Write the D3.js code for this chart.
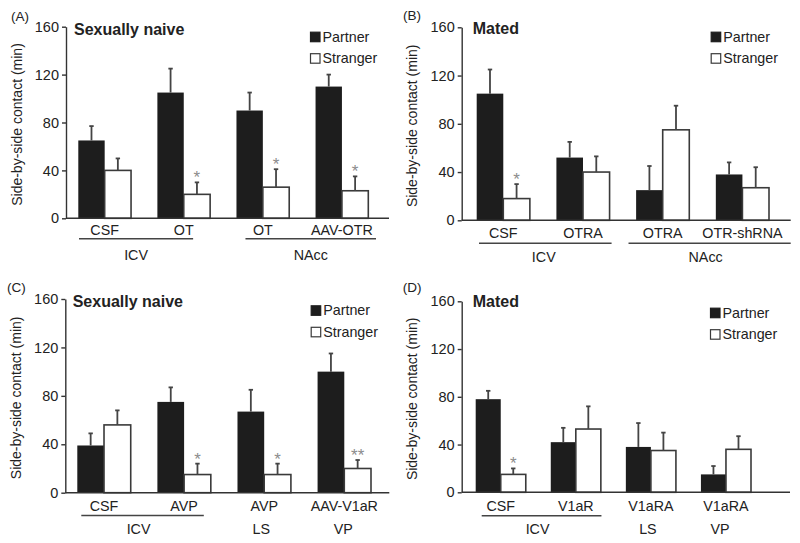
<!DOCTYPE html>
<html>
<head>
<meta charset="utf-8">
<script src="https://cdn.jsdelivr.net/npm/d3@7"></script>
<style>
  html, body { margin: 0; padding: 0; background: #fff; }
  svg { display: block; }
  text { font-family: "Liberation Sans", Arial, Helvetica, sans-serif; fill: #222; }
</style>
</head>
<body>
<svg id="chart" width="800" height="543"></svg>
<script>
// ---------------- DATA ----------------
const yTicks = [0, 40, 80, 120, 160];
const seriesNames = ["Partner", "Stranger"];
const yLabel = "Side-by-side contact (min)";

// Panel A
const titleA = "Sexually naive";
const catsA = ["CSF", "OT", "OT", "AAV-OTR"];
const partnerA = [65, 105, 90, 110];
const partnerErrA = [12, 20, 15, 10];
const strangerA = [40, 20, 26, 23];
const strangerErrA = [10, 10, 15, 12];
const sigA = ["", "*", "*", "*"];
const groupLabelsA = ["ICV", "NAcc"];
const groupSpansA = [[0, 1], [2, 3]];

// Panel B
const titleB = "Mated";
const catsB = ["CSF", "OTRA", "OTRA", "OTR-shRNA"];
const partnerB = [105, 52, 25, 38];
const partnerErrB = [20, 13, 20, 10];
const strangerB = [18, 40, 75, 27];
const strangerErrB = [12, 13, 20, 17];
const sigB = ["*", "", "", ""];
const groupLabelsB = ["ICV", "NAcc"];
const groupSpansB = [[0, 1], [2, 3]];

// Panel C
const titleC = "Sexually naive";
const catsC = ["CSF", "AVP", "AVP", "AAV-V1aR"];
const partnerC = [39, 75, 67, 100];
const partnerErrC = [10, 12, 18, 15];
const strangerC = [56, 15, 15, 20];
const strangerErrC = [12, 9, 9, 7];
const sigC = ["", "*", "*", "**"];
const groupLabelsC = ["ICV", "LS", "VP"];
const groupSpansC = [[0, 1], [2, 2], [3, 3]];

// Panel D
const titleD = "Mated";
const catsD = ["CSF", "V1aR", "V1aRA", "V1aRA"];
const partnerD = [78, 42, 38, 15];
const partnerErrD = [7, 12, 20, 7];
const strangerD = [15, 53, 35, 36];
const strangerErrD = [5, 19, 15, 11];
const sigD = ["*", "", "", ""];
const groupLabelsD = ["ICV", "LS", "VP"];
const groupSpansD = [[0, 1], [2, 2], [3, 3]];

// ---------------- LAYOUT ----------------
const panels = [
  { tag: "(A)", title: titleA, cats: catsA, p: partnerA, pe: partnerErrA, s: strangerA, se: strangerErrA, sig: sigA,
    gl: groupLabelsA, gs: groupSpansA,
    L: { ax: 66, yTop: 26.7, yBot: 218.3, xEnd: 389, r0: 78.3, r1: 368.3, catBase: 235, lineY: 238.7, grpBase: 260,
         lineOff: [[0.7, -17], [9, 7.7]], txtOff: [0, 0], titleX: 74, titleY: 35, legX: 310, legY: 31.7,
         tagX: 11, tagY: 21, ylabX: 17 } },
  { tag: "(B)", title: titleB, cats: catsB, p: partnerB, pe: partnerErrB, s: strangerB, se: strangerErrB, sig: sigB,
    gl: groupLabelsB, gs: groupSpansB,
    L: { ax: 461.7, yTop: 27.3, yBot: 220.3, xEnd: 790.7, r0: 476.7, r1: 769, catBase: 237.5, lineY: 243.3, grpBase: 262,
         lineOff: [[2.3, 2], [-7.6, 21.7]], txtOff: [-1.5, -4], titleX: 472.7, titleY: 34, legX: 710.7, legY: 31.7,
         tagX: 403, tagY: 20, ylabX: 412 } },
  { tag: "(C)", title: titleC, cats: catsC, p: partnerC, pe: partnerErrC, s: strangerC, se: strangerErrC, sig: sigC,
    gl: groupLabelsC, gs: groupSpansC,
    L: { ax: 65.3, yTop: 299, yBot: 492.7, xEnd: 389.3, r0: 77.3, r1: 371, catBase: 511, lineY: 515.5, grpBase: 534,
         lineOff: [[4, -7], [0, 0], [0, 0]], txtOff: [-4, -3, -1], titleX: 72.7, titleY: 307, legX: 310.7, legY: 305.3,
         tagX: 7, tagY: 292, ylabX: 16 } },
  { tag: "(D)", title: titleD, cats: catsD, p: partnerD, pe: partnerErrD, s: strangerD, se: strangerErrD, sig: sigD,
    gl: groupLabelsD, gs: groupSpansD,
    L: { ax: 461.7, yTop: 301.3, yBot: 492.3, xEnd: 790, r0: 475.7, r1: 751, catBase: 511, lineY: 515.7, grpBase: 534,
         lineOff: [[6, 0.6], [0, 0], [0, 0]], txtOff: [-4, -3, -6], titleX: 472.7, titleY: 307, legX: 710, legY: 307.7,
         tagX: 402.7, tagY: 292, ylabX: 412 } }
];

const C_PARTNER = "#1d1d1d";
const C_AXIS = "#333";
const C_STROKE = "#3a3a3a";
const C_ERR = "#444";
const C_SIG = "#8c8c8c";

const svg = d3.select("#chart");

panels.forEach(P => {
  const L = P.L;
  const g = svg.append("g");
  const n = P.cats.length;
  const idx = d3.range(n);

  const y = d3.scaleLinear().domain([0, 160]).range([L.yBot, L.yTop]);
  const x = d3.scaleBand().domain(idx).range([L.r0, L.r1]).paddingInner(0.333).paddingOuter(0);
  const xs = d3.scaleBand().domain(seriesNames).range([0, x.bandwidth()]).padding(0);

  // y axis
  const yAxis = d3.axisLeft(y).tickValues(yTicks).tickSize(4).tickPadding(3).tickSizeOuter(0);
  const ya = g.append("g").attr("transform", `translate(${L.ax},0)`).call(yAxis);
  ya.select(".domain").attr("stroke", C_AXIS).attr("stroke-width", 1.4);
  ya.selectAll(".tick line").attr("stroke", C_AXIS).attr("stroke-width", 1.4);
  ya.selectAll(".tick text").attr("font-size", 14.5).attr("fill", "#222")
    .style("font-family", '"Liberation Sans", Arial, sans-serif');

  // y label
  g.append("text")
    .attr("transform", `translate(${L.ylabX},${(L.yTop + L.yBot) / 2 + 2}) rotate(-90)`)
    .attr("text-anchor", "middle").attr("dy", "0.35em")
    .attr("font-size", 14).text(yLabel);

  // bars
  const rows = idx.map(i => ({ i, vals: [
    { k: "Partner", v: P.p[i], e: P.pe[i] },
    { k: "Stranger", v: P.s[i], e: P.se[i], sig: P.sig[i] }
  ]}));

  const grp = g.selectAll(".grp").data(rows).enter().append("g")
    .attr("transform", d => `translate(${x(d.i)},0)`);

  grp.selectAll("rect").data(d => d.vals).enter().append("rect")
    .attr("x", d => xs(d.k))
    .attr("y", d => y(d.v))
    .attr("width", xs.bandwidth())
    .attr("height", d => y(0) - y(d.v))
    .attr("fill", d => d.k === "Partner" ? C_PARTNER : "#fff")
    .attr("stroke", d => d.k === "Partner" ? "none" : C_STROKE)
    .attr("stroke-width", 1.6);

  const eb = grp.selectAll(".eb").data(d => d.vals).enter().append("g");
  eb.append("line")
    .attr("x1", d => xs(d.k) + xs.bandwidth() / 2)
    .attr("x2", d => xs(d.k) + xs.bandwidth() / 2)
    .attr("y1", d => y(d.v))
    .attr("y2", d => y(d.v + d.e))
    .attr("stroke", C_ERR).attr("stroke-width", 1.8);
  eb.append("line")
    .attr("x1", d => xs(d.k) + xs.bandwidth() / 2 - 2.2)
    .attr("x2", d => xs(d.k) + xs.bandwidth() / 2 + 2.2)
    .attr("y1", d => y(d.v + d.e))
    .attr("y2", d => y(d.v + d.e))
    .attr("stroke", C_ERR).attr("stroke-width", 1.8);
  eb.filter(d => d.sig).append("text")
    .attr("x", d => xs(d.k) + xs.bandwidth() / 2)
    .attr("y", d => y(d.v + d.e) + 1)
    .attr("text-anchor", "middle")
    .attr("font-size", 17)
    .style("fill", C_SIG)
    .text(d => d.sig);

  // x axis line
  g.append("line").attr("x1", L.ax).attr("x2", L.xEnd).attr("y1", L.yBot).attr("y2", L.yBot)
    .attr("stroke", C_AXIS).attr("stroke-width", 1.4);

  // category labels
  g.selectAll(".cat").data(idx).enter().append("text")
    .attr("x", i => x(i) + x.bandwidth() / 2)
    .attr("y", L.catBase)
    .attr("text-anchor", "middle").attr("font-size", 14.3)
    .text(i => P.cats[i]);

  // groups
  P.gs.forEach((span, gi) => {
    const a = x(span[0]), b = x(span[1]) + x.bandwidth();
    let cx;
    if (span[1] > span[0]) {
      const x1 = a + L.lineOff[gi][0], x2 = b + L.lineOff[gi][1];
      g.append("line").attr("x1", x1).attr("x2", x2).attr("y1", L.lineY).attr("y2", L.lineY)
        .attr("stroke", "#444").attr("stroke-width", 1.5);
      cx = (x1 + x2) / 2;
    } else {
      cx = (a + b) / 2;
    }
    g.append("text").attr("x", cx + L.txtOff[gi]).attr("y", L.grpBase)
      .attr("text-anchor", "middle").attr("font-size", 14.3).text(P.gl[gi]);
  });

  // title
  g.append("text").attr("x", L.titleX).attr("y", L.titleY)
    .attr("font-size", 16).attr("font-weight", "bold").text(P.title);

  // panel tag
  g.append("text").attr("x", L.tagX).attr("y", L.tagY).attr("font-size", 13.5).text(P.tag);

  // legend
  const leg = g.selectAll(".leg").data(seriesNames).enter().append("g")
    .attr("transform", (d, i) => `translate(${L.legX},${L.legY + i * 21.5})`);
  leg.append("rect").attr("x", 0.5).attr("y", 0.5).attr("width", 9.5).attr("height", 9.5)
    .attr("fill", d => d === "Partner" ? C_PARTNER : "#fff")
    .attr("stroke", d => d === "Partner" ? C_PARTNER : C_STROKE)
    .attr("stroke-width", 1.2);
  leg.append("text").attr("x", 12.5).attr("y", 9.8).attr("font-size", 14.3).text(d => d);
});
</script>
</body>
</html>
